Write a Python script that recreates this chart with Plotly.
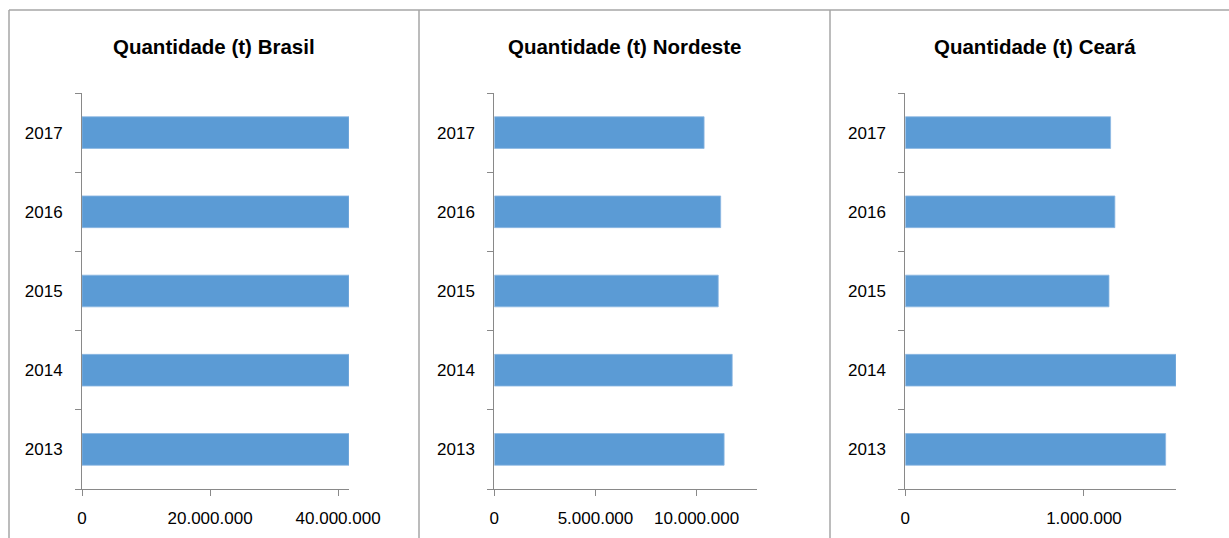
import plotly.graph_objects as go

years = ["2013", "2014", "2015", "2016", "2017"]
brasil = [41.7e6, 41.7e6, 41.7e6, 41.7e6, 41.7e6]
nordeste = [11.36e6, 11.76e6, 11.07e6, 11.19e6, 10.37e6]
ceara = [1.457e6, 1.515e6, 1.140e6, 1.173e6, 1.149e6]

titles = ["Quantidade (t) Brasil", "Quantidade (t) Nordeste", "Quantidade (t) Ceará"]
tickvals = [[0, 20e6, 40e6], [0, 5e6, 10e6], [0, 1e6]]
ticktext = [["0", "20.000.000", "40.000.000"], ["0", "5.000.000", "10.000.000"], ["0", "1.000.000"]]

W, H = 1229, 538
BAR = "#5B9BD5"
AX = "#898989"
BORDER = "#A6A6A6"
TICKFONT = dict(family="Liberation Sans, Arial", size=17, color="#000000")
TITLEFONT = dict(family="Liberation Sans, Arial", size=20.5, color="#000000")

# pixel layout
xdom_px = [(82, 349), (494.3, 757.3), (905.3, 1176)]
xmax = [41.7e6, 13.0e6, 1.515e6]
ytop_px, ybot_px = 93, 489
ydom = [(H - ybot_px) / H, (H - ytop_px) / H]
title_cx = [214, 624.5, 1035]
title_cy = 46

series = [brasil, nordeste, ceara]

fig = go.Figure()
for i, vals in enumerate(series):
    n = "" if i == 0 else str(i + 1)
    fig.add_trace(go.Bar(
        x=vals, y=years, orientation="h", width=0.4,
        marker=dict(color=BAR, line=dict(color="#8DB8E2", width=0.8)),
        xaxis="x" + n, yaxis="y" + n, showlegend=False, hoverinfo="x+y",
    ))
    fig.update_layout(**{
        "xaxis" + n: dict(
            domain=[xdom_px[i][0] / W, xdom_px[i][1] / W], anchor="y" + n,
            range=[0, xmax[i]], showline=True, linecolor=AX, linewidth=1,
            ticks="outside", ticklen=6, tickcolor=AX, showgrid=False, zeroline=False,
            tickvals=tickvals[i], ticktext=ticktext[i], tickfont=TICKFONT, fixedrange=True,
            tickangle=0, automargin=False, ticklabelstandoff=8,
        ),
        "yaxis" + n: dict(
            domain=ydom, anchor="x" + n, type="category",
            categoryorder="array", categoryarray=years,
            showline=True, linecolor=AX, linewidth=1,
            ticks="outside", ticklen=6, tickcolor=AX, tickson="boundaries",
            showgrid=False, zeroline=False, tickfont=TICKFONT,
            ticklabelstandoff=15, fixedrange=True, automargin=False,
        ),
    })
    fig.add_annotation(
        x=title_cx[i] / W, y=(H - title_cy) / H, xref="paper", yref="paper",
        text="<b>" + titles[i] + "</b>", showarrow=False, font=TITLEFONT,
        xanchor="center", yanchor="middle",
    )

# panel borders
shapes = [
    dict(type="line", xref="paper", yref="paper", x0=9 / W, x1=1.0, y0=(H - 10) / H, y1=(H - 10) / H,
         line=dict(color=BORDER, width=1.5)),
]
for xp in [9, 419, 830]:
    shapes.append(dict(type="line", xref="paper", yref="paper", x0=xp / W, x1=xp / W,
                       y0=0, y1=(H - 10) / H, line=dict(color=BORDER, width=1.5)))

fig.update_layout(
    template="none",
    width=W, height=H, autosize=False, margin=dict(l=0, r=0, t=0, b=0, pad=0),
    paper_bgcolor="white", plot_bgcolor="white", shapes=shapes, bargap=0.6,
)

fig.write_html(
    "out.html",
    config={"responsive": False, "displayModeBar": False},
    post_script="document.body.style.margin='0';document.body.style.overflow='hidden';",
)
